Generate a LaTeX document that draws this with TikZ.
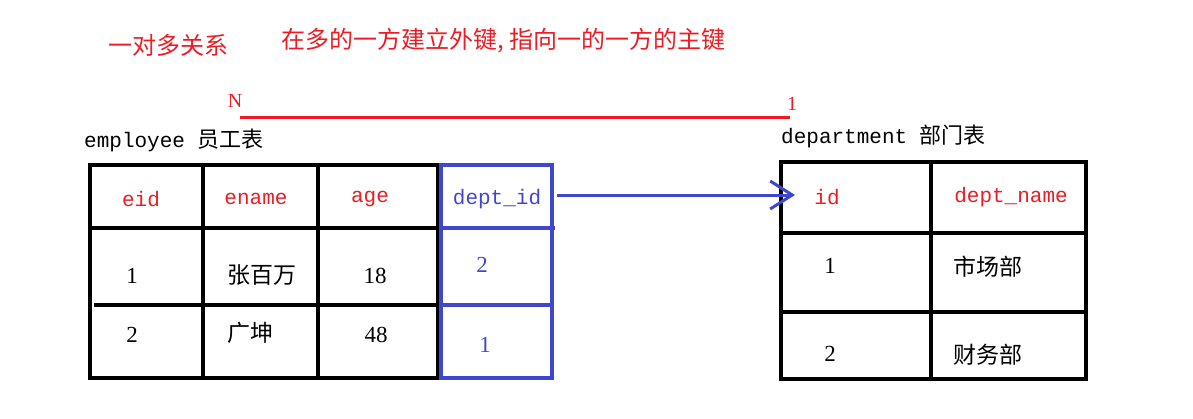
\documentclass[tikz,border=0pt]{standalone}
\usepackage{fontspec}
\setmainfont{Liberation Serif}
\setmonofont{Liberation Mono}
\newfontfamily\cjk{Noto Sans CJK SC}
\usepackage{tikz}
\usetikzlibrary{arrows.meta}
\definecolor{paintred}{HTML}{ED1C24}
\definecolor{paintblue}{HTML}{3F48CC}
\tikzset{
  hdr/.style={font=\ttfamily\fontsize{21}{24}\selectfont, inner sep=0pt},
  num/.style={font=\fontsize{23}{26}\selectfont, inner sep=0pt},
  han/.style={font=\cjk\fontsize{23}{26}\selectfont, inner sep=0pt},
  grid/.style={line width=4pt},
}
\begin{document}
\begin{tikzpicture}[x=1pt, y=-1pt]
    \useasboundingbox (0,0) rectangle (1193,418);
    % titles
    \node[han, paintred, font=\cjk\fontsize{24}{28}\selectfont, anchor=west] (title) at (108,45) {一对多关系};
    \node[han, paintred, font=\cjk\fontsize{24}{28}\selectfont, anchor=west] (rule) at (281,41) {在多的一方建立外键, 指向一的一方的主键};
    % relation line
    \coordinate (Nend) at (240,117);
    \coordinate (Oneend) at (790,117);
    \draw[paintred, line width=3pt] (Nend) -- (Oneend);
    \node[num, paintred, font=\fontsize{20}{22}\selectfont] (N) at (235,101) {N};
    \node[num, paintred, font=\fontsize{20}{22}\selectfont] (One) at (792,104) {1};
    % table captions
    \node[anchor=west, inner sep=0pt] (emp) at (84,140) {\ttfamily\fontsize{21}{24}\selectfont employee {\cjk\fontsize{22}{24}\selectfont 员工表}};
    \node[anchor=west, inner sep=0pt] (dept) at (781,136) {\ttfamily\fontsize{21}{24}\selectfont department {\cjk\fontsize{22}{24}\selectfont 部门表}};
    % employee table
    \draw[grid] (90,165) rectangle (438,378);
    \draw[grid] (203,165) -- (203,378);
    \draw[grid] (318,165) -- (318,378);
    \draw[grid] (90,228) -- (438,228);
    \draw[grid] (94,305) -- (438,305);
    % foreign key column
    \draw[grid, paintblue, line width=3.5pt] (441,165) rectangle (552,378);
    \draw[paintblue, line width=3.5pt] (441,228) -- (555,228);
    \draw[paintblue, line width=3.5pt] (441,305) -- (552,305);
    % department table
    \draw[grid] (781,162) rectangle (1086,379);
    \draw[grid] (931,162) -- (931,379);
    \draw[grid] (781,233) -- (1086,233);
    \draw[grid] (781,312) -- (1086,312);
    % headers
    \node[hdr, paintred] (eid) at (141,199) {eid};
    \node[hdr, paintred] (ename) at (256,199) {ename};
    \node[hdr, paintred] (age) at (370,199) {age};
    \node[hdr, paintblue] (deptid) at (497,199) {dept\_id};
    \node[hdr, paintred] (id) at (827,197) {id};
    \node[hdr, paintred] (dname) at (1011,197) {dept\_name};
    % employee rows
    \node[num] (e1) at (132,276) {1};
    \node[han] (n1) at (262,275) {张百万};
    \node[num] (a1) at (375,276) {18};
    \node[num, paintblue] (f1) at (482,265) {2};
    \node[num] (e2) at (132,335) {2};
    \node[han] (n2) at (250,333) {广坤};
    \node[num] (a2) at (376,335) {48};
    \node[num, paintblue] (f2) at (485,345) {1};
    % department rows
    \node[num] (d1) at (830,266) {1};
    \node[han] (m1) at (988,267) {市场部};
    \node[num] (d2) at (830,354) {2};
    \node[han] (m2) at (988,355) {财务部};
    % foreign key arrow
    \coordinate (FK) at (557,195);
    \coordinate (PK) at (795,195);
    \draw[paintblue, line width=3pt, -{Straight Barb[length=22pt, width=28pt, line width=3pt]}] (FK) -- (PK);
\end{tikzpicture}
\end{document}
